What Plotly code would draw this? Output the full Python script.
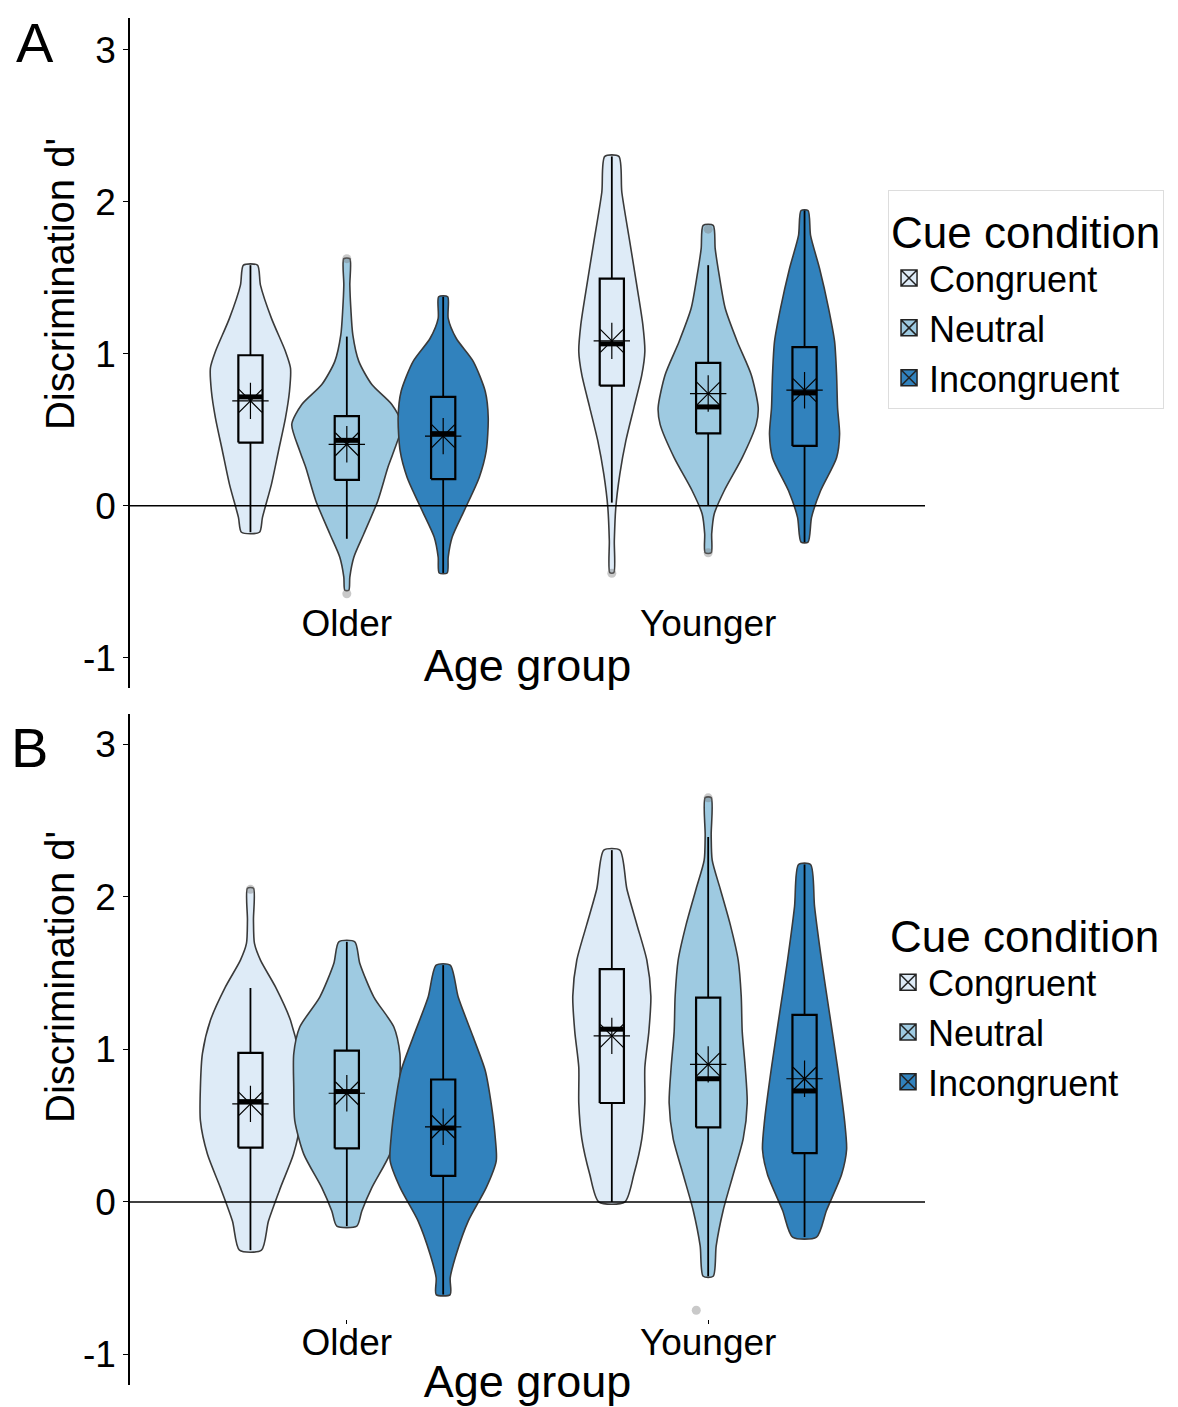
import numpy as np
import plotly.graph_objects as go

# ---------------- data ----------------
groups = ["Older", "Younger"]
conditions = ["Congruent", "Neutral", "Incongruent"]
colors = ["#DEEBF7", "#9ECAE1", "#3182BD"]
y_ticks = [-1, 0, 1, 2, 3]
y_tick_text = ["-1", "0", "1", "2", "3"]

# box statistics, order: Older-Cong, Older-Neu, Older-Inc, Younger-Cong, Younger-Neu, Younger-Inc
A_lower = [-0.175, -0.218, -0.443, 0.02, 0.0, -0.24]
A_q1 = [0.415, 0.17, 0.175, 0.79, 0.476, 0.393]
A_median = [0.716, 0.43, 0.474, 1.065, 0.65, 0.742]
A_q3 = [0.99, 0.589, 0.716, 1.495, 0.94, 1.043]
A_upper = [1.583, 1.113, 1.375, 2.299, 1.583, 1.943]
A_mean = [0.69, 0.404, 0.458, 1.085, 0.738, 0.76]
A_outlier_idx = [1, 1, 3, 4, 4]
A_outlier_val = [1.626, -0.58, -0.445, 1.82, -0.31]

B_lower = [-0.316, -0.158, -0.607, 0.0, -0.487, -0.23]
B_q1 = [0.357, 0.351, 0.171, 0.649, 0.489, 0.321]
B_median = [0.658, 0.724, 0.485, 1.133, 0.808, 0.728]
B_q3 = [0.978, 0.993, 0.803, 1.527, 1.34, 1.227]
B_upper = [1.403, 1.706, 1.553, 2.307, 2.393, 2.213]
B_mean = [0.643, 0.713, 0.493, 1.089, 0.902, 0.808]
B_outlier_idx = [0, 4, 4]
B_outlier_val = [2.05, 2.65, -0.71]
B_outlier_jitter = [0.0, 0.0, -0.033]

# violin density profiles (value, density half-width), read top-down
A_v_y = [
    [1.583, 1.452, 1.233, 1.015, 0.906, 0.753, 0.578, 0.360, 0.142, -0.077, -0.175],
    [1.626, 1.452, 1.299, 1.124, 0.950, 0.797, 0.666, 0.535, 0.360, 0.251, 0.033, -0.185, -0.339, -0.470, -0.557],
    [1.375, 1.233, 1.102, 0.950, 0.753, 0.578, 0.360, 0.186, -0.033, -0.207, -0.339, -0.443],
    [2.299, 2.063, 1.735, 1.408, 1.190, 1.015, 0.862, 0.644, 0.426, 0.207, -0.011, -0.229, -0.441],
    [1.845, 1.692, 1.517, 1.299, 1.081, 0.862, 0.644, 0.535, 0.316, 0.098, -0.055, -0.185, -0.310],
    [1.943, 1.779, 1.561, 1.299, 1.081, 0.862, 0.644, 0.470, 0.316, 0.098, -0.077, -0.240],
]
A_v_d = [
    [7, 10, 21, 35, 40, 39, 35, 28, 21, 12, 9],
    [3, 3, 4, 6, 12, 25, 45, 55, 47, 41, 31, 17, 7, 3, 2],
    [4.5, 5, 13, 30, 42, 45, 43, 36, 21, 9, 5, 4],
    [7, 10, 18, 26, 31, 33, 30, 22, 14, 8, 4, 2.5, 2],
    [5, 7, 11, 17, 29, 43, 50, 48, 34, 16, 6, 3.5, 3],
    [3.5, 6, 15, 24, 30, 32, 33, 35, 32, 16, 7, 3.5],
]
B_v_y = [
    [2.057, 1.849, 1.695, 1.586, 1.410, 1.191, 0.972, 0.752, 0.533, 0.314, 0.094, -0.125, -0.316],
    [1.706, 1.564, 1.344, 1.147, 0.972, 0.752, 0.533, 0.314, 0.094, -0.059, -0.158],
    [1.553, 1.344, 1.081, 0.862, 0.643, 0.423, 0.270, 0.094, -0.125, -0.344, -0.498, -0.607],
    [2.307, 2.054, 1.820, 1.585, 1.351, 1.117, 0.883, 0.649, 0.415, 0.180, 0.0],
    [2.651, 2.405, 2.241, 2.054, 1.820, 1.585, 1.351, 1.117, 0.883, 0.649, 0.415, 0.180, -0.054, -0.288, -0.487],
    [2.213, 1.937, 1.585, 1.234, 0.883, 0.532, 0.344, 0.180, -0.054, -0.230],
]
B_v_d = [
    [3, 3, 4, 10, 25, 40, 48, 50, 50, 43, 30, 18, 11],
    [8, 13, 27, 47, 53, 53, 52, 43, 25, 15, 10],
    [7, 15, 30, 42, 48, 52, 53, 43, 25, 13, 7, 7],
    [8, 15, 25, 35, 39, 37, 33, 33, 30, 22, 13],
    [3, 3, 4, 12, 22, 30, 33, 34, 37, 39, 35, 25, 15, 8, 5],
    [6, 10, 17, 25, 33, 40, 42, 37, 22, 12],
]

# ---------------- figure ----------------
FONT = "Liberation Sans, Arial, sans-serif"
DODGE = 0.8 / 3
DENS_SCALE = 1.0 / 361.0
BOX_W = 0.067

fig = go.Figure()


def centers():
    out = []
    for gi in range(len(groups)):
        for ci in range(len(conditions)):
            out.append((gi + 1) + (ci - 1) * DODGE)
    return out


def add_panel(xa, ya, vy, vd, lower, q1, med, q3, upper, mean, oidx, oval, ojit, legend):
    cx = centers()
    for k in range(6):
        ci = k % 3
        # violin
        y = np.array(vy[k])[::-1]
        hw = np.array(vd[k])[::-1] * DENS_SCALE
        xs = np.concatenate([cx[k] + hw, (cx[k] - hw)[::-1], [cx[k] + hw[0]]])
        ys = np.concatenate([y, y[::-1], [y[0]]])
        fig.add_trace(go.Scatter(
            x=xs, y=ys, xaxis=xa, yaxis=ya, mode="lines", fill="toself",
            fillcolor=colors[ci], line=dict(color="#3a3a3a", width=1.6, shape="spline", smoothing=0.7),
            showlegend=False, hoverinfo="skip"))
        # whiskers
        fig.add_trace(go.Scatter(
            x=[cx[k], cx[k], None, cx[k], cx[k]], y=[q3[k], upper[k], None, q1[k], lower[k]],
            xaxis=xa, yaxis=ya, mode="lines", line=dict(color="black", width=1.8),
            showlegend=False, hoverinfo="skip"))
        # box
        l, r = cx[k] - BOX_W / 2, cx[k] + BOX_W / 2
        fig.add_trace(go.Scatter(
            x=[l, r, r, l, l], y=[q1[k], q1[k], q3[k], q3[k], q1[k]], xaxis=xa, yaxis=ya,
            mode="lines", fill="toself", fillcolor=colors[ci],
            line=dict(color="black", width=2.2), showlegend=False, hoverinfo="skip"))
        # median
        fig.add_trace(go.Scatter(
            x=[l, r], y=[med[k], med[k]], xaxis=xa, yaxis=ya, mode="lines",
            line=dict(color="black", width=5), showlegend=False, hoverinfo="skip"))
    # outliers
    fig.add_trace(go.Scatter(
        x=[cx[i] + j for i, j in zip(oidx, ojit)], y=oval, xaxis=xa, yaxis=ya, mode="markers",
        marker=dict(size=9, color="rgba(120,120,120,0.4)"), showlegend=False, hoverinfo="skip"))
    # means (asterisk)
    fig.add_trace(go.Scatter(x=cx, y=mean, xaxis=xa, yaxis=ya, mode="markers",
                             marker=dict(symbol="cross-thin-open", size=26, color="black",
                                         line=dict(color="black", width=1.2)),
                             showlegend=False, hoverinfo="skip"))
    fig.add_trace(go.Scatter(x=cx, y=mean, xaxis=xa, yaxis=ya, mode="markers",
                             marker=dict(symbol="x-thin-open", size=23, color="black",
                                         line=dict(color="black", width=1.2)),
                             showlegend=False, hoverinfo="skip"))
    # legend entries
    for ci, c in enumerate(conditions):
        fig.add_trace(go.Scatter(
            x=[None], y=[None], xaxis=xa, yaxis=ya, mode="markers", name=c, legend=legend,
            marker=dict(symbol="square-x", size=16, color=colors[ci], line=dict(color="#222222", width=1.5))))


add_panel("x", "y", A_v_y, A_v_d, A_lower, A_q1, A_median, A_q3, A_upper, A_mean,
          A_outlier_idx, A_outlier_val, [0.0] * len(A_outlier_idx), "legend")
add_panel("x2", "y2", B_v_y, B_v_d, B_lower, B_q1, B_median, B_q3, B_upper, B_mean,
          B_outlier_idx, B_outlier_val, B_outlier_jitter, "legend2")

xcommon = dict(range=[0.4, 2.6], tickvals=[1, 2], ticktext=groups, showgrid=False, zeroline=False,
               showline=False, tickfont=dict(size=37, color="black", family=FONT),
               anchor="free", domain=[0, 1], automargin=False)
ycommon = dict(tickvals=y_ticks, ticktext=y_tick_text, showgrid=False, zeroline=False, showline=True,
               linecolor="black", linewidth=1.5, ticks="outside", ticklen=5, tickcolor="black",
               tickfont=dict(size=37, color="black", family=FONT), automargin=False)

fig.update_layout(
    width=1178, height=1407, plot_bgcolor="white", paper_bgcolor="white",
    margin=dict(l=130, r=253, t=18, b=22),
    font=dict(family=FONT, color="black"),
    xaxis=dict(**xcommon, position=0.5754, ticks="",
               title=dict(text="Age group", font=dict(size=45, color="black", family=FONT), standoff=6)),
    yaxis=dict(**ycommon, domain=[0.5099, 1.0], range=[-1.2, 3.21], anchor="x"),
    xaxis2=dict(**xcommon, position=0.0483, ticks="outside", ticklen=4, tickcolor="black",
                ticklabelstandoff=-13,
                title=dict(text="Age group", font=dict(size=45, color="black", family=FONT), standoff=7)),
    yaxis2=dict(**ycommon, domain=[0.0, 0.4909], range=[-1.2, 3.2], anchor="x2"),
    legend=dict(x=0.9535, y=0.8742, xanchor="left", yanchor="top", bgcolor="white",
                bordercolor="#DDDDDD", borderwidth=1,
                title=dict(text="Cue condition", font=dict(size=44, family=FONT)),
                font=dict(size=36, family=FONT), tracegroupgap=0),
    legend2=dict(x=0.9535, y=0.3584, xanchor="left", yanchor="top", bgcolor="rgba(0,0,0,0)",
                 borderwidth=0,
                 title=dict(text="Cue condition", font=dict(size=44, family=FONT)),
                 font=dict(size=36, family=FONT), tracegroupgap=0),
    shapes=[
        dict(type="line", xref="x domain", yref="y", x0=0, x1=1, y0=0, y1=0,
             line=dict(color="black", width=1.5), layer="above"),
        dict(type="line", xref="x2 domain", yref="y2", x0=0, x1=1, y0=0, y1=0,
             line=dict(color="black", width=1.5), layer="above"),
    ],
    annotations=[
        dict(text="A", xref="paper", yref="paper", x=-0.1195, y=0.9824, xanchor="center",
             yanchor="middle", showarrow=False, font=dict(size=56, family=FONT)),
        dict(text="B", xref="paper", yref="paper", x=-0.1258, y=0.466, xanchor="center",
             yanchor="middle", showarrow=False, font=dict(size=56, family=FONT)),
        dict(text="Discrimination d'", xref="paper", yref="paper", x=-0.088, y=0.8054,
             xanchor="center", yanchor="middle", textangle=-90, showarrow=False,
             font=dict(size=40, family=FONT)),
        dict(text="Discrimination d'", xref="paper", yref="paper", x=-0.088, y=0.2985,
             xanchor="center", yanchor="middle", textangle=-90, showarrow=False,
             font=dict(size=40, family=FONT)),
    ],
)

fig.write_html("out.html", config={"displayModeBar": False},
               post_script="document.body.style.margin='0';")
